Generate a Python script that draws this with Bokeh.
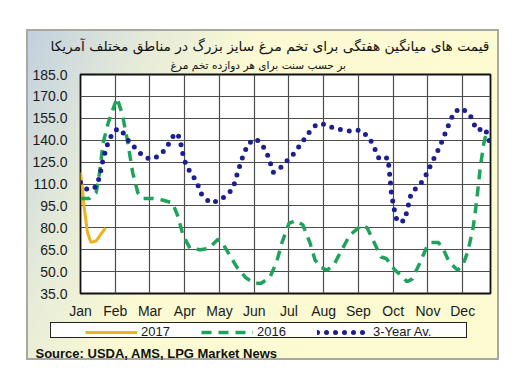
from bokeh.plotting import figure
from bokeh.layouts import column
from bokeh.models import Range1d, FixedTicker, Title, Legend, LegendItem, NumeralTickFormatter
from bokeh.embed import file_html
from bokeh.resources import INLINE

months = ["Jan", "Feb", "Mar", "Apr", "May", "Jun", "Jul", "Aug", "Sep", "Oct", "Nov", "Dec"]
y_ticks = [35, 50, 65, 80, 95, 110, 125, 140, 155, 170, 185]

title_text = "قیمت های میانگین هفتگی برای تخم مرغ سایز بزرگ در مناطق مختلف آمریکا"
subtitle_text = "بر حسب سنت برای هر دوازده تخم مرغ"
source_text = "Source: USDA, AMS, LPG  Market News"
series_names = ["2017", "2016", "3-Year Av."]

# 2017 (month position, cents/dozen)
x_2017 = [0.0, 0.05, 0.1, 0.2, 0.3, 0.45, 0.6, 0.72]
y_2017 = [118, 108, 95, 77, 70, 71, 76, 80]

# 2016
x_2016 = [0.0, 0.25, 0.45, 0.55, 0.65, 0.8, 1.05, 1.2, 1.35, 1.5, 1.65, 1.8, 2.1, 2.35, 2.65,
          2.8, 2.95, 3.15, 3.45, 3.7, 3.95, 4.05, 4.25, 4.5, 4.75, 5.0, 5.2, 5.45, 5.65, 5.8,
          6.0, 6.2, 6.4, 6.6, 6.75, 6.9, 7.1, 7.3, 7.5, 7.75, 8.1, 8.25, 8.45, 8.65, 8.8,
          9.05, 9.2, 9.4, 9.55, 9.75, 9.95, 10.1, 10.3, 10.45, 10.6, 10.85, 11.0, 11.15, 11.3,
          11.4, 11.5, 11.6, 11.66]
y_2016 = [100, 100, 104, 118, 138, 152, 169, 158, 140, 118, 104, 100, 100, 99, 97,
          88, 75, 66, 65, 66, 72, 71, 63, 53, 46, 42, 42, 46, 57, 70,
          83, 85, 82, 70, 58, 53, 51, 55, 64, 75, 82, 80, 70, 60, 59,
          51, 48, 43, 45, 55, 66, 70, 70, 65, 57, 51, 54, 64, 80,
          98, 120, 137, 143]

# 3-year average
x_avg = [0.0, 0.2, 0.45, 0.55, 0.65, 0.8, 0.95, 1.1, 1.2, 1.4, 1.6, 1.8, 2.0, 2.25, 2.45,
         2.72, 2.85, 2.95, 3.05, 3.2, 3.35, 3.5, 3.75, 4.0, 4.25, 4.4, 4.55, 4.7, 4.85, 5.05,
         5.25, 5.4, 5.55, 5.75, 5.95, 6.15, 6.45, 6.6, 6.8, 7.05, 7.3, 7.55, 7.8, 8.05, 8.25,
         8.4, 8.6, 8.85, 8.9, 8.95, 9.05, 9.12, 9.33, 9.45, 9.52, 9.7, 9.88, 10.1, 10.35,
         10.55, 10.75, 10.95, 11.2, 11.4, 11.65, 11.8]
y_avg = [111, 106, 108, 115, 127, 139, 146, 148, 146, 139, 134, 129, 127, 129, 134,
         145, 142, 130, 122, 117, 111, 102, 97, 99, 103, 108, 120, 131, 138, 141,
         136, 129, 118, 121, 126, 131, 141, 146, 151, 151, 148, 147, 146, 147, 143,
         138, 127, 128, 116, 103, 90, 84, 85, 97, 104, 108, 113, 124, 136,
         148, 159, 162, 158, 147, 148, 137]

series = [(x_2017, y_2017), (x_2016, y_2016), (x_avg, y_avg)]

W, H = 525, 384
FL, FR, FT, FB = 80, 490, 74, 294   # chart frame on the page
SPLIT = 321                          # top figure height; legend strip below
LB = 343                             # bottom of legend strip frame (page px)

styles = [dict(line_color="#f0b21c", line_width=3),
          dict(line_color="#1fa35a", line_width=3.5, line_dash="10 7"),
          dict(line_color="#1b1f8f", line_width=5, line_dash="0 9", line_cap="round", line_join="round")]


def panel_bg(dy, legend_box=False):
    parts = []
    if legend_box:
        parts += ["linear-gradient(#ffffff,#ffffff) 51px %dpx / 415px 14px no-repeat" % (323 - dy),
                  "linear-gradient(#222222,#222222) 50px %dpx / 417px 16px no-repeat" % (322 - dy)]
    parts += ["linear-gradient(115deg, #c2d0de 0%%, #e6ebd9 20%%, #fbfad3 38%%, #fdfbd0 100%%) 28px %dpx / 469px 327px no-repeat" % (31 - dy),
              "linear-gradient(#a9a9a2,#a9a9a2) 26px %dpx / 473px 331px no-repeat" % (29 - dy),
              "#ffffff"]
    return ", ".join(parts)


p = figure(width=W, height=SPLIT, output_backend="svg", toolbar_location=None,
           x_range=Range1d(0, 11.8), y_range=Range1d(35, 185),
           min_border_left=FL, min_border_right=W - FR,
           min_border_top=FT, min_border_bottom=SPLIT - FB)
p.title.visible = False
p.background_fill_color = "white"
p.border_fill_color = None
p.outline_line_color = "#111111"
p.outline_line_width = 1.8
p.styles = {"background": panel_bg(0)}

p.yaxis.ticker = FixedTicker(ticks=y_ticks)
p.yaxis.formatter = NumeralTickFormatter(format="0.0")
p.xaxis.ticker = FixedTicker(ticks=list(range(12)))
p.xaxis.major_label_overrides = {i: m for i, m in enumerate(months)}
for ax in (p.xaxis[0], p.yaxis[0]):
    ax.axis_line_color = None
    ax.major_tick_line_color = None
    ax.minor_tick_line_color = None
    ax.major_tick_in = 0
    ax.major_tick_out = 0
    ax.major_label_text_font = "Liberation Sans"
    ax.major_label_text_font_size = "14px"
    ax.major_label_text_color = "#1a1a1a"
p.yaxis.major_label_standoff = 13
p.xaxis.major_label_standoff = 9

p.xgrid.ticker = FixedTicker(ticks=list(range(12)))
p.ygrid.ticker = FixedTicker(ticks=y_ticks)
for g in (p.xgrid[0], p.ygrid[0]):
    g.grid_line_color = "#4d4d4d"
    g.grid_line_width = 1.2
    g.grid_line_alpha = 1.0

for (xs, ys), st in zip(series, styles):
    p.line(xs, ys, **st)

p.add_layout(Title(text=subtitle_text, align="left", offset=170 - FL, text_font="DejaVu Sans",
                   text_font_size="10.6px", text_font_style="normal", text_color="#111111",
                   standoff=7), "above")
p.add_layout(Title(text=title_text, align="left", offset=50 - FL, text_font="DejaVu Sans",
                   text_font_size="13.75px", text_font_style="normal", text_color="#111111",
                   standoff=-1), "above")

# legend / source strip; its frame is aligned with the chart frame (x = page px)
p2 = figure(width=W, height=H - SPLIT, output_backend="svg", toolbar_location=None,
            x_range=Range1d(FL, FR), y_range=Range1d(LB, SPLIT),
            min_border_left=FL, min_border_right=W - FR,
            min_border_top=0, min_border_bottom=H - LB)
p2.title.visible = False
p2.axis.visible = False
p2.grid.visible = False
p2.outline_line_color = None
p2.background_fill_color = None
p2.border_fill_color = None
p2.styles = {"background": panel_bg(SPLIT, legend_box=True)}

# series drawn with their own values fall outside this strip's y range (only the legend keys show)
keys = [p2.line(xs, ys, **st) for (xs, ys), st in zip(series, styles)]
legend = Legend(items=[LegendItem(label=n, renderers=[r]) for n, r in zip(series_names, keys)],
                orientation="horizontal", location=(85 - FL, LB - 339),
                margin=0, padding=2, spacing=3, glyph_width=52, glyph_height=14,
                label_standoff=4, label_width=57,
                label_text_font="Liberation Sans", label_text_font_size="13px",
                label_text_color="#1a1a1a",
                border_line_color=None, background_fill_alpha=0)
p2.add_layout(legend)
p2.add_layout(Title(text=source_text, align="left", offset=35 - FL, text_font="Liberation Sans",
                    text_font_size="13px", text_font_style="bold", text_color="#111111",
                    standoff=0), "below")

layout = column(p, p2, spacing=0)
open("out.html", "w").write(file_html(layout, INLINE))
